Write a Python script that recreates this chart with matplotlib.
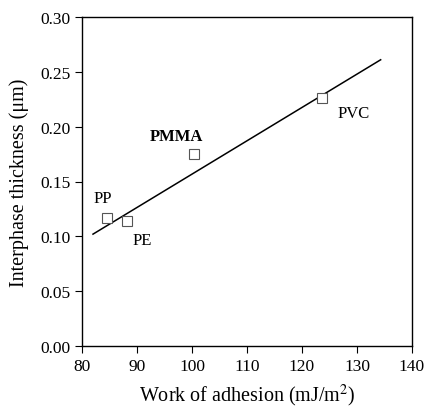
import matplotlib.pyplot as plt

plt.rcParams['font.family'] = ['Liberation Serif', 'DejaVu Serif']
plt.rcParams['mathtext.fontset'] = 'stix'

# polymer data: work of adhesion vs interphase thickness
polymers = ["PP", "PE", "PMMA", "PVC"]
work_adh = [84.5, 88.2, 100.4, 123.6]
thickness = [0.117, 0.114, 0.175, 0.226]

# linear fit line endpoints
fit_x = [82.0, 134.3]
fit_y = [0.102, 0.261]

fig = plt.figure(figsize=(4.25, 4.10), dpi=100)
ax = fig.add_axes([82 / 425, 1 - 347 / 410, 330 / 425, 329 / 410])

ax.plot(fit_x, fit_y, color="black", lw=1.1)
ax.plot(work_adh, thickness, ls="none", marker="s", ms=6.5,
        mfc="white", mec="#555555", mew=0.8)

# labels next to each point
offsets = {"PP": (-3, 14), "PE": (11, -14), "PMMA": (-13, 13), "PVC": (23, -11)}
for name, x, y in zip(polymers, work_adh, thickness):
    dx, dy = offsets[name]
    ax.annotate(name, (x, y), xytext=(dx, dy), textcoords="offset points",
                ha="center", va="center", fontsize=12,
                fontweight="bold" if name == "PMMA" else "normal")

ax.set_xlim(80, 140)
ax.set_ylim(0, 0.30)
ax.set_xticks(range(80, 141, 10))
ax.set_yticks([0.0, 0.05, 0.10, 0.15, 0.20, 0.25, 0.30])
ax.set_yticklabels([f"{v:.2f}" for v in ax.get_yticks()])
ax.tick_params(direction="out", length=5, width=0.8, labelsize=12.5,
               top=False, right=False)
for s in ax.spines.values():
    s.set_linewidth(1)

ax.set_xlabel("Work of adhesion (mJ/m$^{2}$)", fontsize=14.5, labelpad=6)
ax.set_ylabel("Interphase thickness (\u03bcm)", fontsize=14.5, labelpad=8)

fig.savefig("out.png", dpi=100)
